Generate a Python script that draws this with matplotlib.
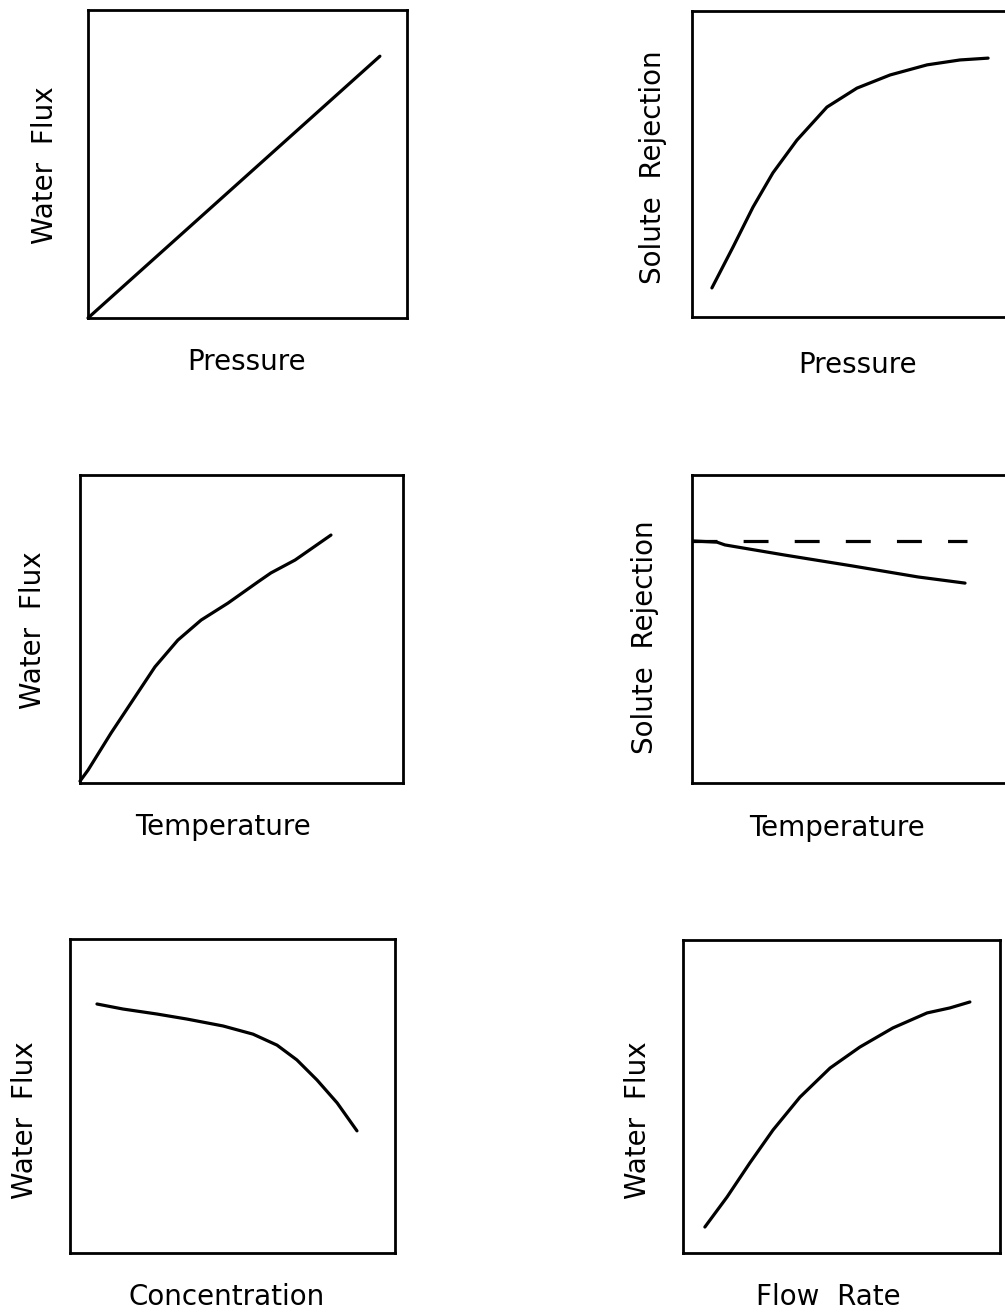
import matplotlib
matplotlib.use('Agg')
import matplotlib.pyplot as plt

W, H = 1005, 1315

# curves, as fractions of each box (0..1)
pressure_x = [0.0, 0.915]
flux_vs_pressure = [0.0, 0.85]

pressure_x2 = [0.063, 0.130, 0.193, 0.256, 0.332, 0.427, 0.522, 0.627, 0.744, 0.848, 0.937]
rejection_vs_pressure = [0.095, 0.229, 0.359, 0.471, 0.578, 0.686, 0.748, 0.791, 0.824, 0.840, 0.846]

temp_x = [0.0, 0.025, 0.096, 0.170, 0.232, 0.303, 0.375, 0.458, 0.551, 0.591, 0.666, 0.777]
flux_vs_temp = [0.006, 0.042, 0.162, 0.279, 0.377, 0.464, 0.529, 0.584, 0.653, 0.682, 0.724, 0.805]

temp_x2 = [0.0, 0.079, 0.104, 0.294, 0.506, 0.715, 0.864]
rejection_vs_temp = [0.786, 0.782, 0.773, 0.740, 0.705, 0.669, 0.649]
ideal_x = [0.0, 0.870]
ideal_rejection = [0.786, 0.786]

conc_x = [0.083, 0.163, 0.268, 0.360, 0.471, 0.563, 0.637, 0.698, 0.760, 0.822, 0.883]
flux_vs_conc = [0.793, 0.777, 0.761, 0.745, 0.723, 0.697, 0.662, 0.615, 0.551, 0.478, 0.389]

flow_x = [0.069, 0.139, 0.211, 0.284, 0.369, 0.464, 0.558, 0.662, 0.770, 0.842, 0.905]
flux_vs_flow = [0.083, 0.179, 0.288, 0.393, 0.498, 0.591, 0.658, 0.719, 0.767, 0.783, 0.802]

# panel boxes in pixels: left, top, right, bottom
boxes = [
    (88, 10, 407, 318),
    (692, 11, 1008, 317),
    (80, 475, 403, 783),
    (692, 475, 1008, 783),
    (70, 939, 395, 1253),
    (683, 940, 1000, 1253),
]

ylabels = ['Water  Flux', 'Solute  Rejection', 'Water  Flux',
           'Solute  Rejection', 'Water  Flux', 'Water  Flux']
xlabels = ['Pressure', 'Pressure', 'Temperature', 'Temperature',
           'Concentration', 'Flow  Rate']
ylabel_pos = [(45, 165), (653, 167), (33, 630), (645, 637), (25, 1120), (638, 1120)]
xlabel_pos = [(247, 362), (858, 365), (223, 827), (837, 828), (227, 1297), (828, 1297)]

fig = plt.figure(figsize=(W / 100, H / 100), dpi=100)
fig.patch.set_facecolor('white')

axes = []
for (l, t, r, b) in boxes:
    ax = fig.add_axes([l / W, 1 - b / H, (r - l) / W, (b - t) / H])
    ax.set_xlim(0, 1)
    ax.set_ylim(0, 1)
    ax.set_xticks([])
    ax.set_yticks([])
    for sp in ax.spines.values():
        sp.set_linewidth(2.0)
    axes.append(ax)

style = dict(color='black', lw=2.3, solid_joinstyle='round', solid_capstyle='round')
axes[0].plot(pressure_x, flux_vs_pressure, clip_on=False, **style)
axes[1].plot(pressure_x2, rejection_vs_pressure, **style)
axes[2].plot(temp_x, flux_vs_temp, clip_on=False, **style)
axes[3].plot(temp_x2, rejection_vs_temp, **style)
axes[3].plot(ideal_x, ideal_rejection, color='black', lw=2.3, linestyle=(0, (7.8, 8.2)))
axes[4].plot(conc_x, flux_vs_conc, **style)
axes[5].plot(flow_x, flux_vs_flow, **style)

font = {'family': 'DejaVu Sans', 'size': 20}
for (x, y), txt in zip(ylabel_pos, ylabels):
    fig.text(x / W, 1 - y / H, txt, rotation=90, ha='center', va='center', fontdict=font)
for (x, y), txt in zip(xlabel_pos, xlabels):
    fig.text(x / W, 1 - y / H, txt, ha='center', va='center', fontdict=font)

fig.savefig('out.png', dpi=100, facecolor='white')
